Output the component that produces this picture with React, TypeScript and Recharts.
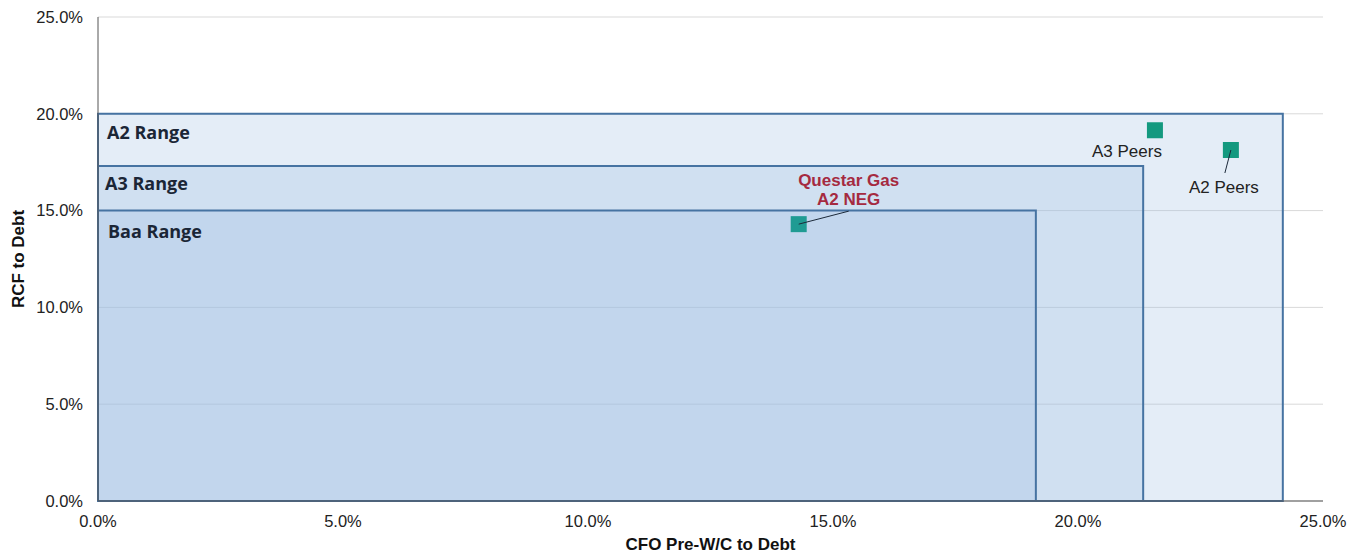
import React from "react";
import {
  CartesianGrid,
  ReferenceArea,
  Scatter,
  ScatterChart,
  XAxis,
  YAxis,
} from "recharts";

// rating ranges (CFO pre-W/C to debt max, RCF to debt max), in %
const rangeNames = ["A2 Range", "A3 Range", "Baa Range"];
const rangeCfoMax = [24.18, 21.33, 19.14];
const rangeRcfMax = [20.0, 17.3, 15.0];

// peer / company points, in %
const pointNames = ["Questar Gas A2 NEG", "A3 Peers", "A2 Peers"];
const pointCfo = [14.3, 21.57, 23.12];
const pointRcf = [14.3, 19.15, 18.13];

const axisTicks = [0, 5, 10, 15, 20, 25];

const FONT = "'Liberation Sans', Arial, Helvetica, sans-serif";

// label placement relative to each marker
const pointLabels: Record<
  string,
  { lines: string[]; dx: number; dy: number; bold?: boolean; color: string; leader?: [number, number]; fill: string }
> = {
  "Questar Gas A2 NEG": {
    lines: ["Questar Gas", "A2 NEG"],
    dx: 50,
    dy: -44,
    bold: true,
    color: "#a52a40",
    leader: [50, -13],
    fill: "#1f9b93",
  },
  "A3 Peers": { lines: ["A3 Peers"], dx: -28, dy: 21, color: "#222", fill: "#13997f" },
  "A2 Peers": { lines: ["A2 Peers"], dx: -7, dy: 37, color: "#222", leader: [-6, 23], fill: "#13997f" },
};

const rangeLabelDx = [9, 7, 10];
const rangeLabelDy = [18, 17, 20];

const points = pointNames.map((name, i) => ({ name, x: pointCfo[i], y: pointRcf[i] }));

function Marker(props: any) {
  const { cx, cy, payload } = props;
  const cfg = pointLabels[payload.name];
  return (
    <g>
      <rect x={cx - 8} y={cy - 8} width={16} height={16} fill={cfg.fill} />
      {cfg.leader && (
        <line
          x1={cx}
          y1={cy}
          x2={cx + cfg.leader[0]}
          y2={cy + cfg.leader[1]}
          stroke="#1c2a3a"
          strokeWidth={1}
        />
      )}
      {cfg.lines.map((t, k) => (
        <text
          key={k}
          x={cx + cfg.dx}
          y={cy + cfg.dy + k * 19}
          textAnchor="middle"
          dominantBaseline="central"
          fontFamily={FONT}
          fontSize={17}
          fontWeight={cfg.bold ? 700 : 400}
          fill={cfg.color}
        >
          {t}
        </text>
      ))}
    </g>
  );
}

const pct = (v: number) => `${v.toFixed(1)}%`;

export default function App() {
  return (
    <div style={{ position: "absolute", left: 0, top: 0, background: "#fff" }}>
      <ScatterChart width={1358} height={552} margin={{ top: 17, right: 35, bottom: 0, left: 0 }}>
        <CartesianGrid vertical={false} stroke="#d9d9d9" strokeWidth={1} />
        <XAxis
          type="number"
          dataKey="x"
          domain={[0, 25]}
          ticks={axisTicks}
          tickFormatter={pct}
          tickLine={false}
          tickMargin={8}
          height={51}
          stroke="#555"
          tick={{ fontSize: 16.5, fill: "#222", fontFamily: FONT }}
          label={{
            content: ({ viewBox }: any) => (
              <text
                x={viewBox.x + viewBox.width / 2}
                y={viewBox.y + 43}
                textAnchor="middle"
                dominantBaseline="central"
                fontFamily={FONT}
                fontSize={17}
                fontWeight={700}
                fill="#111"
              >
                CFO Pre-W/C to Debt
              </text>
            ),
          }}
        />
        <YAxis
          type="number"
          dataKey="y"
          domain={[0, 25]}
          ticks={axisTicks}
          tickFormatter={pct}
          tickLine={false}
          tickMargin={9}
          width={98}
          stroke="#555"
          tick={{ fontSize: 16.5, fill: "#222", fontFamily: FONT }}
          label={{
            content: ({ viewBox }: any) => {
              const cx = viewBox.x + 18;
              const cy = viewBox.y + viewBox.height / 2;
              return (
                <text
                  x={cx}
                  y={cy}
                  transform={`rotate(-90 ${cx} ${cy})`}
                  textAnchor="middle"
                  dominantBaseline="central"
                  fontFamily={FONT}
                  fontSize={17}
                  fontWeight={700}
                  fill="#111"
                >
                  RCF to Debt
                </text>
              );
            },
          }}
        />
        {rangeNames.map((name, i) => (
          <ReferenceArea
            key={name}
            x1={0}
            x2={rangeCfoMax[i]}
            y1={0}
            y2={rangeRcfMax[i]}
            fill="#9dbfe3"
            fillOpacity={0.28}
            stroke="#4673a2"
            strokeWidth={2}
            strokeOpacity={1}
            label={{
              content: ({ viewBox }: any) => (
                <text
                  x={viewBox.x + rangeLabelDx[i]}
                  y={viewBox.y + rangeLabelDy[i]}
                  dominantBaseline="central"
                  fontFamily="'Open Sans', sans-serif"
                  fontSize={18}
                  fontWeight={700}
                  fill="#1b2636"
                >
                  {name}
                </text>
              ),
            }}
          />
        ))}
        <Scatter data={points} shape={<Marker />} isAnimationActive={false} />
      </ScatterChart>
    </div>
  );
}
